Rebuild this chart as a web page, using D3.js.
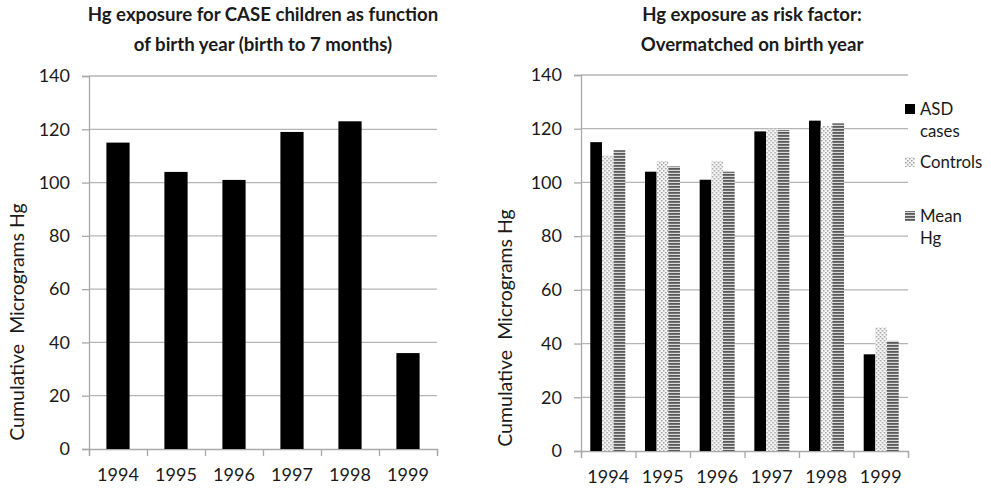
<!DOCTYPE html>
<html lang="en">
<head>
    <meta charset="UTF-8">
    <title>Hg exposure charts</title>
    <script src="https://d3js.org/d3.v7.min.js"></script>
    <style>
        body { margin: 0; background: #fff; }
        text { font-family: Lato, "Open Sans", sans-serif; fill: #1a1a1a; }
        .title { font-weight: bold; font-size: 18.6px; }
        .tick-label { font-size: 18px; }
        .axis-title { font-size: 19.5px; }
        .legend-label { font-size: 16.8px; }
        .grid { stroke: #b5b5b5; stroke-width: 1.3px; }
        .axis-line { stroke: #a8a8a8; stroke-width: 1.3px; }
    </style>
</head>
<body>
<svg width="991" height="489"></svg>
<script>
    const years = ["1994", "1995", "1996", "1997", "1998", "1999"];
    const caseHg = [115, 104, 101, 119, 123, 36];
    const controlsHg = [110, 108, 108, 120, 121, 46];
    const meanHg = [112, 106, 104, 119.5, 122, 41];
    const yTicks = [0, 20, 40, 60, 80, 100, 120, 140];
    const seriesKeys = ["cases", "controls", "mean"];
    const legendLines = [["ASD", "cases"], ["Controls"], ["Mean", "Hg"]];
    const leftTitle = ["Hg exposure for CASE children as function", "of birth year (birth to 7 months)"];
    const rightTitle = ["Hg exposure as risk factor:", "Overmatched on birth year"];
    const yLabel = "Cumulative\u00a0\u00a0Micrograms Hg";

    const svg = d3.select("svg");

    // patterns for the grouped chart
    const defs = svg.append("defs");
    const dots = defs.append("pattern")
        .attr("id", "dots")
        .attr("width", 4).attr("height", 4)
        .attr("patternUnits", "userSpaceOnUse");
    dots.append("rect").attr("width", 4).attr("height", 4).attr("fill", "#f6f6f6");
    dots.append("rect").attr("x", 0).attr("y", 0).attr("width", 1.5).attr("height", 1.5).attr("fill", "#a0a0a0");
    dots.append("rect").attr("x", 2).attr("y", 2).attr("width", 1.5).attr("height", 1.5).attr("fill", "#a0a0a0");

    const stripes = defs.append("pattern")
        .attr("id", "stripes")
        .attr("width", 4).attr("height", 3)
        .attr("patternUnits", "userSpaceOnUse");
    stripes.append("rect").attr("width", 4).attr("height", 3).attr("fill", "#d8d8d8");
    stripes.append("rect").attr("width", 4).attr("height", 1.8).attr("fill", "#5a5a5a");

    const fills = { cases: "#000", controls: "url(#dots)", mean: "url(#stripes)" };

    function drawFrame(cfg) {
        const g = svg.append("g");
        const y = d3.scaleLinear().domain([0, 140]).range([cfg.bottom, cfg.top]);
        const edge = d3.scaleLinear().domain([0, years.length]).range([cfg.left, cfg.right]);

        // gridlines
        g.append("g").selectAll("line")
            .data(yTicks.filter(d => d > 0))
            .join("line")
            .attr("class", "grid")
            .attr("x1", cfg.left).attr("x2", cfg.right)
            .attr("y1", d => y(d)).attr("y2", d => y(d));

        // y axis
        const ya = g.append("g")
            .attr("transform", `translate(${cfg.left},0)`)
            .call(d3.axisLeft(y).tickValues(yTicks).tickSize(7).tickPadding(12));
        ya.select(".domain").attr("class", "axis-line").attr("fill", "none");
        ya.selectAll(".tick line").attr("class", "axis-line");
        ya.selectAll(".tick text").attr("class", "tick-label").attr("fill", null).attr("font-size", null).attr("font-family", null);

        // x axis ticks at category boundaries
        const xa = g.append("g")
            .attr("transform", `translate(0,${cfg.bottom})`)
            .call(d3.axisBottom(edge).tickValues(d3.range(years.length + 1)).tickSize(7).tickFormat(""));
        xa.select(".domain").attr("class", "axis-line").attr("fill", "none");
        xa.selectAll(".tick line").attr("class", "axis-line");

        // y axis title
        g.append("text")
            .attr("class", "axis-title")
            .attr("transform", `translate(${cfg.yLabelX},${cfg.yLabelY}) rotate(-90)`)
            .attr("text-anchor", "middle")
            .attr("dy", "0.35em")
            .text(yLabel);

        // chart title
        g.append("text")
            .attr("class", "title")
            .attr("text-anchor", "middle")
            .selectAll("tspan")
            .data(cfg.title)
            .join("tspan")
            .attr("x", cfg.titleX)
            .attr("y", (d, i) => 21 + i * 30)
            .text(d => d);

        return { g, y };
    }

    function yearLabels(g, x, bottom) {
        g.append("g").selectAll("text")
            .data(years)
            .join("text")
            .attr("class", "tick-label")
            .attr("text-anchor", "middle")
            .attr("x", d => x(d) + x.bandwidth() / 2)
            .attr("y", bottom + 32)
            .text(d => d);
    }

    // left chart: case children only
    const left = { left: 89, right: 437, top: 76, bottom: 449, titleX: 263, yLabelX: 17, yLabelY: 322, title: leftTitle };
    const L = drawFrame(left);
    const xL = d3.scaleBand().domain(years).range([left.left, left.right]).paddingInner(0.6).paddingOuter(0.3);
    L.g.append("g").selectAll("rect")
        .data(years)
        .join("rect")
        .attr("x", d => xL(d))
        .attr("width", xL.bandwidth())
        .attr("y", (d, i) => L.y(caseHg[i]))
        .attr("height", (d, i) => L.y(0) - L.y(caseHg[i]))
        .attr("fill", "#000");
    const xLfull = d3.scaleBand().domain(years).range([left.left, left.right]);
    yearLabels(L.g, xLfull, left.bottom);

    // right chart: cases vs controls vs mean
    const right = { left: 581, right: 908, top: 75, bottom: 451, titleX: 752, yLabelX: 505, yLabelY: 328, title: rightTitle };
    const R = drawFrame(right);
    const x0 = d3.scaleBand().domain(years).range([right.left, right.right]).paddingInner(0.36).paddingOuter(0.17);
    const x1 = d3.scaleBand().domain(seriesKeys).range([0, x0.bandwidth()]);
    const values = { cases: caseHg, controls: controlsHg, mean: meanHg };
    const rows = years.map((yr, i) => ({ yr, vals: seriesKeys.map(k => ({ k, v: values[k][i] })) }));
    R.g.append("g").selectAll("g")
        .data(rows)
        .join("g")
        .attr("transform", d => `translate(${x0(d.yr)},0)`)
        .selectAll("rect")
        .data(d => d.vals)
        .join("rect")
        .attr("x", d => x1(d.k))
        .attr("width", x1.bandwidth())
        .attr("y", d => R.y(d.v))
        .attr("height", d => R.y(0) - R.y(d.v))
        .attr("fill", d => fills[d.k]);
    const xRfull = d3.scaleBand().domain(years).range([right.left, right.right]);
    yearLabels(R.g, xRfull, right.bottom);

    // legend
    const legendY = [109, 162, 216];
    const legend = svg.append("g").selectAll("g")
        .data(seriesKeys)
        .join("g")
        .attr("transform", (d, i) => `translate(905,${legendY[i]})`);
    legend.append("rect")
        .attr("x", 0).attr("y", -5)
        .attr("width", 10).attr("height", 10)
        .attr("fill", d => fills[d]);
    legend.append("text")
        .attr("class", "legend-label")
        .selectAll("tspan")
        .data((d, i) => legendLines[i])
        .join("tspan")
        .attr("x", 15)
        .attr("y", (d, i) => i * 22)
        .attr("dy", "0.35em")
        .text(d => d);
</script>
</body>
</html>
